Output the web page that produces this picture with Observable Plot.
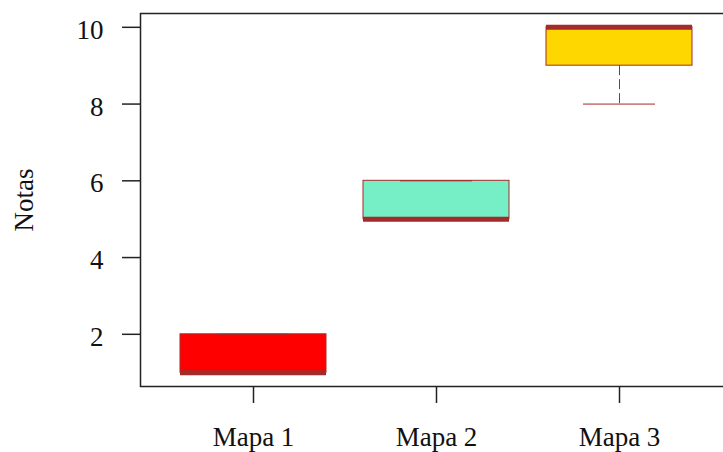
<!DOCTYPE html>
<html><head><meta charset="utf-8">
<script src="https://cdn.jsdelivr.net/npm/d3@7"></script>
<script src="https://cdn.jsdelivr.net/npm/@observablehq/plot@0.6"></script>
<style>body{margin:0;background:#fff;overflow:hidden}</style>
</head><body><div id="chart"></div>
<script>
const maps = ["Mapa 1", "Mapa 2", "Mapa 3"];
const mins = [1, 5, 8];
const q1s = [1, 5, 9];
const medians = [1, 5, 10];
const q3s = [2, 6, 10];
const maxs = [2, 6, 10];
const fills = ["#FF0000", "#76EEC6", "#FFD700"];
const yTicks = [2, 4, 6, 8, 10];
const yLabel = "Notas";
const border = "#A52A2A";

const data = maps.map((m, i) => ({map: m, min: mins[i], q1: q1s[i], median: medians[i], q3: q3s[i], max: maxs[i], fill: fills[i]}));
const lo = d3.min(mins), hi = d3.max(maxs), ext = (hi - lo) * 0.04;

const chart = Plot.plot({
  width: 723, height: 452,
  marginLeft: 140, marginRight: -9, marginTop: 13, marginBottom: 66,
  style: {fontFamily: "'Liberation Serif', 'Times New Roman', serif", fontSize: "27px", color: "#111", background: "#fff"},
  x: {type: "band", domain: maps, paddingInner: 0.2, paddingOuter: 0.21},
  y: {domain: [lo - ext, hi + ext]},
  color: {type: "identity"},
  marks: [
    Plot.barY(data, {x: "map", y1: "q1", y2: "q3", fill: "fill", stroke: border, strokeWidth: 1}),
    Plot.ruleX(data, {x: "map", y1: "q1", y2: "min", stroke: border, strokeWidth: 1, strokeDasharray: "10,4"}),
    Plot.ruleX(data, {x: "map", y1: "q3", y2: "max", stroke: border, strokeWidth: 1, strokeDasharray: "10,4"}),
    Plot.tickY(data, {x: "map", y: "min", stroke: border, strokeWidth: 1, insetLeft: 37, insetRight: 37}),
    Plot.tickY(data, {x: "map", y: "max", stroke: border, strokeWidth: 1, insetLeft: 37, insetRight: 37}),
    Plot.tickY(data, {x: "map", y: "median", stroke: border, strokeWidth: 5}),
    Plot.frame({stroke: "#222", strokeWidth: 1.5}),
    Plot.axisY({ticks: yTicks, tickSize: 18, tickFormat: () => "", stroke: "#222", strokeWidth: 1.5, label: null}),
    Plot.axisY({ticks: yTicks, tickSize: 0, tickPadding: 37, dy: 3,
      label: yLabel, labelAnchor: "center", labelOffset: 127, labelArrow: "none"}),
    Plot.axisX({tickSize: 17, tickPadding: 23, stroke: "#222", strokeWidth: 1.5, label: null})
  ]
});
document.getElementById("chart").appendChild(chart);
</script>
</body></html>
